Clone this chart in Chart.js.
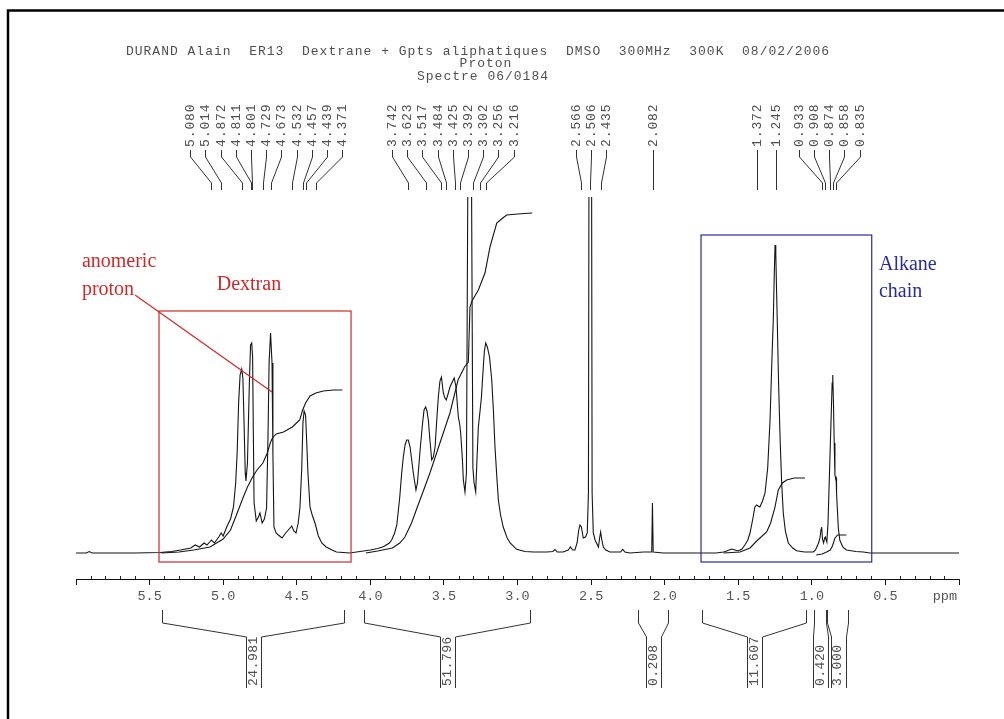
<!DOCTYPE html>
<html>
<head>
<meta charset="utf-8">
<script src="https://cdn.jsdelivr.net/npm/chart.js@4.4.1/dist/chart.umd.min.js"></script>
<style>
  html, body { margin: 0; padding: 0; background: #fff; }
</style>
</head>
<body>
<canvas id="nmr" width="1004" height="719"></canvas>
<script>
// spectrum: chemical shift (ppm) and intensity (arb.)
const specPpm = [6.00, 5.93, 5.91, 5.89, 5.60, 5.43, 5.35, 5.29, 5.22, 5.19, 5.16, 5.13, 5.11, 5.08, 5.06, 5.03, 5.014, 5.00, 4.976, 4.95,
  4.93, 4.915, 4.905, 4.895, 4.885, 4.874, 4.866, 4.858, 4.850, 4.845, 4.835, 4.822, 4.814, 4.806, 4.800, 4.795, 4.790, 4.775, 4.76, 4.75,
  4.735, 4.72, 4.705, 4.695, 4.688, 4.678, 4.668, 4.662, 4.655, 4.64, 4.625, 4.60, 4.575, 4.557, 4.534, 4.52, 4.505, 4.49, 4.478, 4.466,
  4.458, 4.450, 4.440, 4.432, 4.424, 4.41, 4.395, 4.376, 4.353, 4.33, 4.30, 4.26, 4.23, 4.14, 4.00, 3.95, 3.912, 3.87, 3.855, 3.835,
  3.82, 3.80, 3.787, 3.776, 3.764, 3.753, 3.742, 3.73, 3.718, 3.708, 3.69, 3.68, 3.66, 3.645, 3.635, 3.624, 3.615, 3.606, 3.595, 3.583,
  3.572, 3.56, 3.55, 3.538, 3.527, 3.517, 3.504, 3.493, 3.484, 3.47, 3.459, 3.44, 3.43, 3.418, 3.402, 3.392, 3.386, 3.375, 3.368, 3.357,
  3.347, 3.336, 3.314, 3.303, 3.295, 3.284, 3.275, 3.266, 3.256, 3.245, 3.235, 3.225, 3.216, 3.205, 3.19, 3.175, 3.163, 3.153, 3.14, 3.13,
  3.115, 3.097, 3.07, 3.05, 3.006, 2.95, 2.89, 2.80, 2.76, 2.745, 2.73, 2.69, 2.655, 2.64, 2.625, 2.61, 2.595, 2.585, 2.576, 2.566,
  2.553, 2.538, 2.526, 2.518, 2.514, 2.497, 2.493, 2.485, 2.473, 2.45, 2.442, 2.435, 2.428, 2.417, 2.40, 2.372, 2.30, 2.285, 2.27, 2.236,
  2.145, 2.088, 2.083, 2.078, 2.01, 1.90, 1.83, 1.65, 1.60, 1.579, 1.545, 1.51, 1.50, 1.475, 1.455, 1.435, 1.42, 1.40,
  1.387, 1.375, 1.365, 1.353, 1.335, 1.318, 1.30, 1.284, 1.272, 1.262, 1.255, 1.25, 1.245, 1.24, 1.235, 1.226, 1.216, 1.205, 1.194, 1.18,
  1.16, 1.13, 1.103, 1.05, 0.99, 0.975, 0.96, 0.95, 0.944, 0.937, 0.933, 0.928, 0.92, 0.913, 0.908, 0.903, 0.898, 0.89, 0.88, 0.874,
  0.868, 0.862, 0.858, 0.853, 0.848, 0.843, 0.838, 0.835, 0.832, 0.828, 0.82, 0.81, 0.79, 0.765, 0.70, 0.65, 0.605, 0.30, 0.00]
const specInt = [0, 0, 1.5, 0, 0, 0.5, 1.5, 3, 5, 8, 6, 10, 8, 13, 10, 16, 20, 17, 26, 34,
  46, 70, 100, 150, 178, 184, 175, 130, 80, 72, 90, 170, 208, 210, 196, 120, 50, 32, 36, 40,
  30, 34, 45, 120, 190, 220, 190, 100, 26, 20, 18, 15, 20, 23, 27, 22, 20, 30, 46, 85,
  130, 142, 138, 110, 80, 46, 38, 30, 17, 10, 6, 3, 1, 0, 3, 4.5, 6.3, 10, 13, 20,
  28, 56, 80, 96, 108, 113, 113, 106, 92, 80, 63, 70, 106, 130, 143, 146, 142, 133, 113, 93,
  96, 106, 130, 156, 172, 176, 160, 155, 153, 160, 166, 172, 175, 166, 136, 128, 120, 95, 73, 61,
  80, 420, 420, 85, 70, 61, 95, 126, 140, 156, 180, 202, 210, 206, 196, 173, 140, 106, 75, 53,
  38, 26, 15, 10, 3.7, 1.5, 1, 1, 1.5, 3.5, 1, 1, 3, 6, 3, 3, 10, 22, 28, 26,
  15, 16, 20, 60, 420, 420, 60, 20, 13, 6, 15, 21, 14, 6, 3, 1, 1, 3.7, 1, 0,
  1, 1, 50, 1, 0, 0, 0, 0, 1, 2, 4, 2.5, 2, 4, 8, 13, 20, 35,
  46, 48, 47, 46, 52, 60, 85, 133, 190, 233, 280, 308, 300, 265, 233, 170, 116, 70, 40, 22,
  10, 5, 2.3, 1, 1, 3, 8, 12, 16, 24, 26, 14, 10, 15, 16, 13, 11, 30, 80, 110,
  140, 170, 178, 150, 110, 78, 74, 75, 60, 48, 25, 13, 6, 3, 1.5, 1, 0, 0, 0]

// integral curves
const int1Ppm = [5.42, 5.30, 5.20, 5.09, 5.00, 4.95, 4.91, 4.863, 4.835, 4.80, 4.77, 4.73, 4.70, 4.68, 4.665, 4.64, 4.59, 4.53, 4.48, 4.46, 4.44, 4.41, 4.37, 4.32, 4.25, 4.19]
const int1Val = [0, 1, 3, 6, 14, 23, 38, 56, 66, 76, 83, 90, 100, 110, 115, 119, 121, 126, 133, 143, 150, 157, 160, 162, 163, 163]
const int2Ppm = [4.03, 3.95, 3.85, 3.80, 3.765, 3.72, 3.683, 3.64, 3.595, 3.527, 3.459, 3.404, 3.36, 3.334, 3.323, 3.309, 3.266, 3.221, 3.187, 3.141, 3.10, 3.074, 3.00, 2.90]
const int2Val = [0, 2, 5, 10, 16, 30, 45, 62, 80, 110, 140, 173, 186, 191, 246, 252, 263, 280, 306, 330, 335, 338, 339, 340]
const int3Ppm = [1.60, 1.488, 1.42, 1.375, 1.307, 1.28, 1.25, 1.228, 1.20, 1.171, 1.12, 1.047]
const int3Val = [0, 1, 5, 12, 21, 30, 46, 63, 70, 73, 75, 75]
const int4Ppm = [0.97, 0.93, 0.90, 0.875, 0.86, 0.843, 0.825, 0.765]
const int4Val = [-2, -1, 1, 3, 7, 15, 18, 18]

// peak picking labels (grouped as printed)
const peakGroups = [
  ['5.080', '5.014', '4.872', '4.811', '4.801', '4.729', '4.673', '4.532', '4.457', '4.439', '4.371'],
  ['3.742', '3.623', '3.517', '3.484', '3.425', '3.392', '3.302', '3.256', '3.216'],
  ['2.566', '2.506', '2.435'],
  ['2.082'],
  ['1.372', '1.245'],
  ['0.933', '0.908', '0.874', '0.858', '0.835']
]

// integration ranges and values
const integFrom = [5.418, 4.04, 2.18, 1.744, 0.983, 0.895]
const integTo = [4.179, 2.915, 1.975, 1.042, 0.904, 0.753]
const integLabels = ['24.981', '51.796', '0.208', '11.607', '0.420', '3.000']

const titleLines = [
  'DURAND Alain  ER13  Dextrane + Gpts aliphatiques  DMSO  300MHz  300K  08/02/2006',
  'Proton',
  'Spectre 06/0184'
]

const MONO = '"Liberation Mono", "DejaVu Sans Mono", monospace'
const SERIF = '"Liberation Serif", "DejaVu Serif", serif'

function pts(xs, ys) {
  return xs.map((v, i) => ({x: v, y: ys[i]}))
}

function isMajor(v) {
  return Math.round(v * 10) % 5 === 0
}

const overlay = {
  id: 'overlay',
  afterDraw(chart) {
    const ctx = chart.ctx
    const x = chart.scales.x
    const y = chart.scales.y
    const px = v => x.getPixelForValue(v)
    const py = v => y.getPixelForValue(v)
    const bottom = chart.chartArea.bottom

    ctx.save()

    // page frame
    ctx.strokeStyle = '#000'
    ctx.lineWidth = 2.5
    ctx.beginPath()
    ctx.moveTo(8, 719)
    ctx.lineTo(8, 10.5)
    ctx.lineTo(1004, 10.5)
    ctx.stroke()

    // minor ticks pointing up
    ctx.strokeStyle = '#222'
    ctx.lineWidth = 1
    ctx.beginPath()
    for (let k = 0; k <= 60; k++) {
      if (k % 5 === 0) continue
      const xx = Math.round(px(k / 10)) + 0.5
      ctx.moveTo(xx, bottom)
      ctx.lineTo(xx, bottom - 3)
    }
    ctx.stroke()

    // ppm unit
    ctx.fillStyle = '#555'
    ctx.font = '13.5px ' + MONO
    ctx.textAlign = 'right'
    ctx.textBaseline = 'middle'
    ctx.fillText('ppm', x.right - 2, 596)

    // title block
    ctx.fillStyle = '#505050'
    ctx.font = '13px ' + MONO
    ctx.letterSpacing = '1px'
    ctx.textAlign = 'center'
    const titleX = [478, 486, 483]
    titleLines.forEach((t, i) => ctx.fillText(t, titleX[i], 51.5 + i * 12.5))

    // peak labels with connectors
    ctx.letterSpacing = '0.9px'
    ctx.strokeStyle = '#333'
    ctx.lineWidth = 1
    peakGroups.forEach(group => {
      const peaks = group.map(s => px(parseFloat(s)))
      let spread = true
      for (let i = 1; i < peaks.length; i++) {
        if (peaks[i] - peaks[i - 1] < 15) spread = false
      }
      const mean = peaks.reduce((a, b) => a + b, 0) / peaks.length
      const labelX = spread ? peaks : peaks.map((p, i) => mean + (i - (peaks.length - 1) / 2) * 15.2)
      group.forEach((s, i) => {
        const lx = Math.round(labelX[i]) + 0.5
        const pk = Math.round(peaks[i]) + 0.5
        ctx.beginPath()
        ctx.moveTo(lx, 150)
        ctx.lineTo(lx, 157)
        ctx.lineTo(pk, 183)
        ctx.lineTo(pk, 190)
        ctx.stroke()
        ctx.save()
        ctx.translate(lx, 147)
        ctx.rotate(-Math.PI / 2)
        ctx.textAlign = 'left'
        ctx.fillText(s, 0, 0)
        ctx.restore()
      })
    })

    // integral brackets below the axis
    ctx.letterSpacing = '0.5px'
    integLabels.forEach((lab, i) => {
      const a = Math.round(px(integFrom[i])) + 0.5
      const b = Math.round(px(integTo[i])) + 0.5
      const m = (a + b) / 2
      ctx.beginPath()
      ctx.moveTo(a, 610)
      ctx.lineTo(a, 623)
      ctx.lineTo(Math.round(m - 7.5) + 0.5, 637)
      ctx.lineTo(Math.round(m - 7.5) + 0.5, 688)
      ctx.moveTo(b, 610)
      ctx.lineTo(b, 623)
      ctx.lineTo(Math.round(m + 7.5) + 0.5, 637)
      ctx.lineTo(Math.round(m + 7.5) + 0.5, 688)
      ctx.stroke()
      ctx.save()
      ctx.translate(m, 686)
      ctx.rotate(-Math.PI / 2)
      ctx.textAlign = 'left'
      ctx.fillText(lab, 0, 0)
      ctx.restore()
    })
    ctx.letterSpacing = '0px'

    // Dextran annotation (red)
    const red = '#cc2a2a'
    ctx.strokeStyle = red
    ctx.lineWidth = 1.2
    ctx.strokeRect(px(5.436), py(242), px(4.131) - px(5.436), py(-9) - py(242))
    ctx.beginPath()
    ctx.moveTo(px(5.599), py(258))
    ctx.lineTo(px(4.668), py(161))
    ctx.stroke()
    ctx.fillStyle = red
    ctx.font = '20px ' + SERIF
    ctx.textAlign = 'left'
    ctx.fillText('anomeric', px(5.96), py(291))
    ctx.fillText('proton', px(5.96), py(263))
    ctx.textAlign = 'center'
    ctx.fillText('Dextran', px(4.825), py(268))

    // Alkane annotation (blue)
    const blue = '#2b2b9c'
    ctx.strokeStyle = blue
    ctx.strokeRect(px(1.753), py(318), px(0.593) - px(1.753), py(-9) - py(318))
    ctx.fillStyle = blue
    ctx.textAlign = 'left'
    ctx.fillText('Alkane', px(0.544), py(288))
    ctx.fillText('chain', px(0.544), py(261))

    ctx.restore()
  }
}

const lineStyle = {
  borderColor: '#151515',
  borderWidth: 1.1,
  pointRadius: 0,
  tension: 0,
  fill: false
}

new Chart(document.getElementById('nmr'), {
  type: 'line',
  data: {
    datasets: [
      Object.assign({data: pts(specPpm, specInt)}, lineStyle),
      Object.assign({data: pts(int1Ppm, int1Val)}, lineStyle),
      Object.assign({data: pts(int2Ppm, int2Val)}, lineStyle),
      Object.assign({data: pts(int3Ppm, int3Val)}, lineStyle),
      Object.assign({data: pts(int4Ppm, int4Val)}, lineStyle)
    ]
  },
  options: {
    responsive: false,
    animation: false,
    devicePixelRatio: 1,
    layout: {padding: {left: 76, right: 45, top: 197, bottom: 0}},
    plugins: {legend: {display: false}, tooltip: {enabled: false}},
    scales: {
      x: {
        type: 'linear',
        min: 0,
        max: 6,
        reverse: true,
        afterFit: s => { s.height = 140 },
        border: {display: true, color: '#111', width: 1},
        grid: {
          drawOnChartArea: false,
          drawTicks: true,
          tickLength: 6,
          color: c => (c.tick && isMajor(c.tick.value)) ? '#111' : 'rgba(0,0,0,0)'
        },
        ticks: {
          stepSize: 0.1,
          autoSkip: false,
          maxRotation: 0,
          padding: 3,
          color: '#555',
          font: {family: MONO, size: 13.5},
          callback: v => (isMajor(v) && v > 0.01 && v < 5.99) ? v.toFixed(1) : ''
        }
      },
      y: {
        display: false,
        min: -26,
        max: 356
      }
    }
  },
  plugins: [overlay]
})
</script>
</body>
</html>
